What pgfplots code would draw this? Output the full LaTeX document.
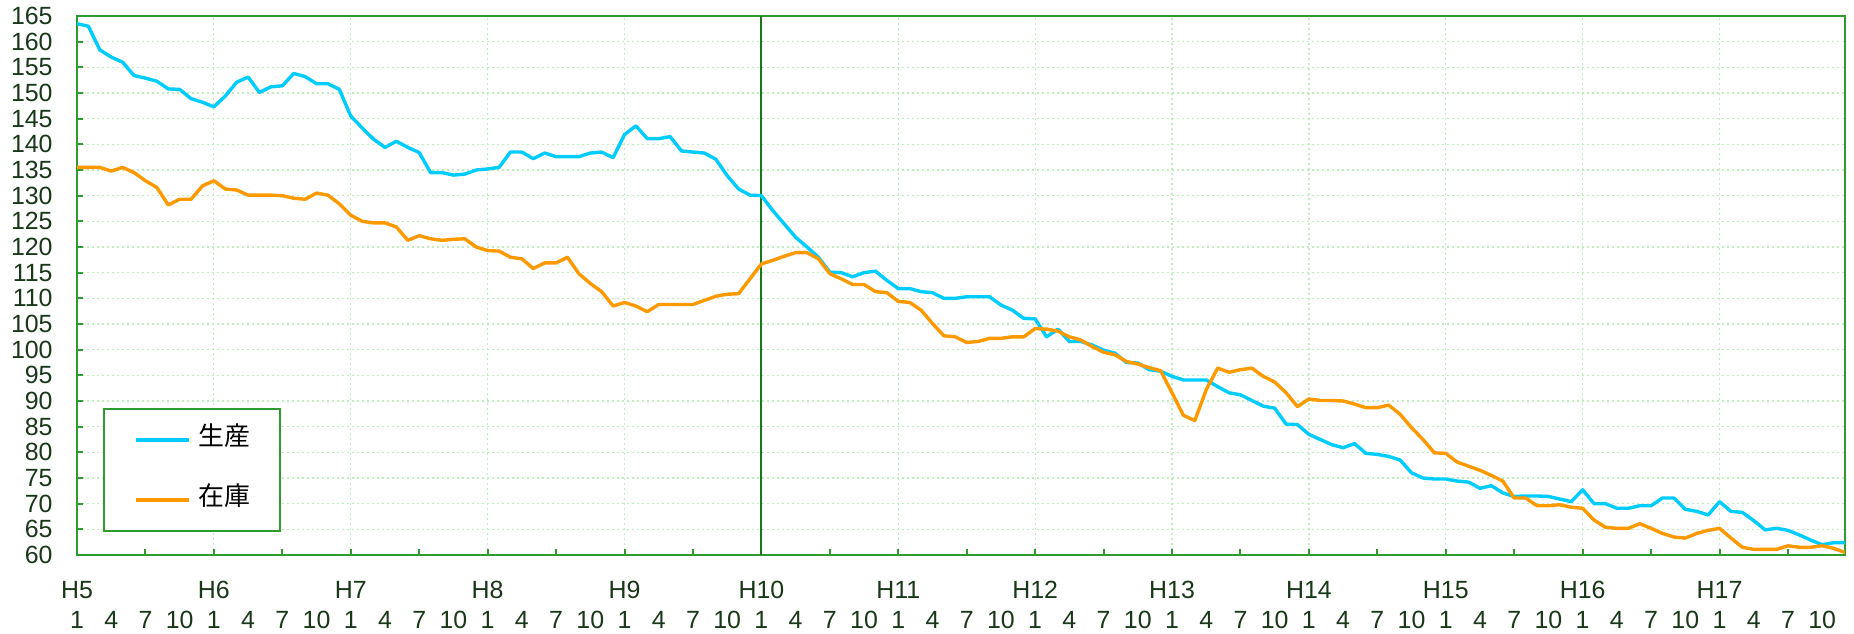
\documentclass[border=0pt]{standalone}
\usepackage{pgfplots}
\pgfplotsset{compat=1.18}
\usepackage{pgfplotstable}
\usepackage{fontspec}
\setmainfont{Liberation Sans}
\newfontfamily\cjk{Noto Sans CJK JP}
\definecolor{axgreen}{RGB}{45,155,45}
\definecolor{gridgreen}{RGB}{190,238,190}
\definecolor{linegreen}{RGB}{25,120,25}
\definecolor{labgreen}{RGB}{25,55,25}
\definecolor{prodblue}{RGB}{0,204,255}
\definecolor{invorange}{RGB}{255,153,0}

\pgfplotstableread{
i prod inv
0 163.5 135.5
1 163.0 135.5
2 158.4 135.5
3 157.0 134.8
4 156.0 135.5
5 153.4 134.5
6 152.9 132.9
7 152.3 131.6
8 150.8 128.2
9 150.7 129.3
10 148.9 129.3
11 148.2 131.9
12 147.3 132.9
13 149.4 131.3
14 152.1 131.1
15 153.1 130.1
16 150.1 130.1
17 151.2 130.1
18 151.4 130.0
19 153.8 129.5
20 153.2 129.3
21 151.8 130.5
22 151.8 130.1
23 150.7 128.4
24 145.5 126.2
25 143.2 125.0
26 141.0 124.7
27 139.4 124.7
28 140.6 123.9
29 139.4 121.3
30 138.4 122.2
31 134.5 121.6
32 134.5 121.3
33 134.0 121.5
34 134.2 121.6
35 135.0 120.0
36 135.2 119.3
37 135.5 119.2
38 138.5 118.0
39 138.5 117.7
40 137.2 115.8
41 138.3 116.9
42 137.6 116.9
43 137.6 118.0
44 137.6 114.8
45 138.3 112.9
46 138.5 111.3
47 137.4 108.5
48 141.9 109.2
49 143.6 108.5
50 141.1 107.4
51 141.1 108.8
52 141.5 108.8
53 138.7 108.8
54 138.5 108.8
55 138.3 109.6
56 137.1 110.4
57 133.9 110.8
58 131.3 110.9
59 130.1 113.8
60 130.0 116.7
61 127.1 117.4
62 124.5 118.2
63 121.9 118.9
64 120.0 118.9
65 118.0 117.7
66 115.1 114.8
67 115.0 113.8
68 114.2 112.7
69 115.0 112.7
70 115.3 111.3
71 113.5 111.1
72 111.9 109.4
73 111.9 109.2
74 111.3 107.7
75 111.1 105.1
76 110.0 102.7
77 110.0 102.5
78 110.3 101.4
79 110.3 101.6
80 110.3 102.2
81 108.7 102.2
82 107.7 102.5
83 106.1 102.5
84 106.0 104.1
85 102.5 104.0
86 104.0 103.6
87 101.6 102.5
88 101.6 101.9
89 100.9 100.6
90 99.9 99.5
91 99.3 99.0
92 97.5 97.7
93 97.4 97.2
94 96.1 96.5
95 95.8 95.9
96 94.8 91.6
97 94.1 87.2
98 94.1 86.2
99 94.1 92.2
100 92.8 96.4
101 91.6 95.6
102 91.2 96.1
103 90.1 96.4
104 89.0 94.8
105 88.6 93.7
106 85.5 91.6
107 85.4 88.9
108 83.5 90.4
109 82.5 90.1
110 81.5 90.1
111 80.9 90.0
112 81.7 89.4
113 79.8 88.7
114 79.6 88.7
115 79.2 89.2
116 78.5 87.4
117 76.0 84.8
118 75.0 82.5
119 74.8 79.9
120 74.8 79.8
121 74.4 78.1
122 74.2 77.3
123 73.0 76.5
124 73.5 75.5
125 72.1 74.4
126 71.4 71.1
127 71.5 71.1
128 71.5 69.6
129 71.4 69.6
130 70.9 69.8
131 70.4 69.3
132 72.7 69.1
133 70.0 66.8
134 70.0 65.4
135 69.1 65.2
136 69.1 65.2
137 69.6 66.1
138 69.6 65.2
139 71.1 64.2
140 71.1 63.5
141 68.9 63.3
142 68.5 64.2
143 67.8 64.8
144 70.4 65.2
145 68.5 63.3
146 68.3 61.5
147 66.7 61.1
148 64.9 61.1
149 65.2 61.1
150 64.8 61.8
151 63.9 61.5
152 62.9 61.5
153 62.0 61.8
154 62.4 61.3
155 62.4 60.5
}\datatable

\begin{document}
\begin{tikzpicture}
\begin{axis}[
  scale only axis,
  width=884bp, height=269.5bp,
  xmin=0, xmax=155, ymin=60, ymax=165,
  axis line style={draw=axgreen, line width=1bp},
  tick align=inside,
  xtick pos=lower, ytick pos=left,
  major tick length=3bp,
  every tick/.style={draw=axgreen, line width=1bp},
  ytick={60,65,...,165},
  /pgf/number format/assume math mode=true,
  tick label style={text=labgreen, font=\fontsize{12.5}{14}\selectfont},
  y tick label style={anchor=east, inner sep=0pt, xshift=-12bp},
  xtick={0,6,...,150},
  xticklabels={H5,,H6,,H7,,H8,,H9,,H10,,H11,,H12,,H13,,H14,,H15,,H16,,H17,{}},
  x tick label style={anchor=center, inner sep=0pt, yshift=-17.5bp},
  extra x ticks={0,3,...,153},
  extra x tick labels={1,4,7,10,1,4,7,10,1,4,7,10,1,4,7,10,1,4,7,10,1,4,7,10,1,4,7,10,1,4,7,10,1,4,7,10,1,4,7,10,1,4,7,10,1,4,7,10,1,4,7,10},
  extra x tick style={major tick length=0pt, grid=none, x tick label style={yshift=-15bp}},
  minor xtick={0,12,...,144},
  minor tick length=0pt,
  xminorgrids=true, xmajorgrids=false, ymajorgrids=true,
  major grid style={draw=gridgreen, line width=0.6bp, dash pattern=on 1bp off 1.5bp},
  minor grid style={draw=gridgreen, line width=0.6bp, dash pattern=on 1bp off 1.5bp},
  legend style={at={(0.0147,0.0427)}, anchor=south west, draw=axgreen, line width=1bp,
    fill=white, font=\cjk\fontsize{13}{15}\selectfont, text=black,
    inner xsep=15bp, inner ysep=9.5bp, row sep=18bp,
    nodes={inner sep=0pt, text height=9bp, text depth=3bp},
    /tikz/every odd column/.append style={column sep=4bp}},
  legend cell align=left,
  legend image code/.code={\draw[#1] (0bp,0bp) -- (26.5bp,0bp);},
]
\addplot[draw=linegreen, line width=1bp, forget plot] coordinates {(60,60) (60,165)};
\addplot[draw=prodblue, line width=1.7bp, line join=round] table[x=i, y=prod] {\datatable};
\addlegendentry{生産}
\addplot[draw=invorange, line width=1.7bp, line join=round] table[x=i, y=inv] {\datatable};
\addlegendentry{在庫}
\end{axis}
\pgfresetboundingbox
\path (current axis.south west) +(-38.5bp,-39.5bp) (current axis.north east) +(4.5bp,8bp);
\end{tikzpicture}
\end{document}
